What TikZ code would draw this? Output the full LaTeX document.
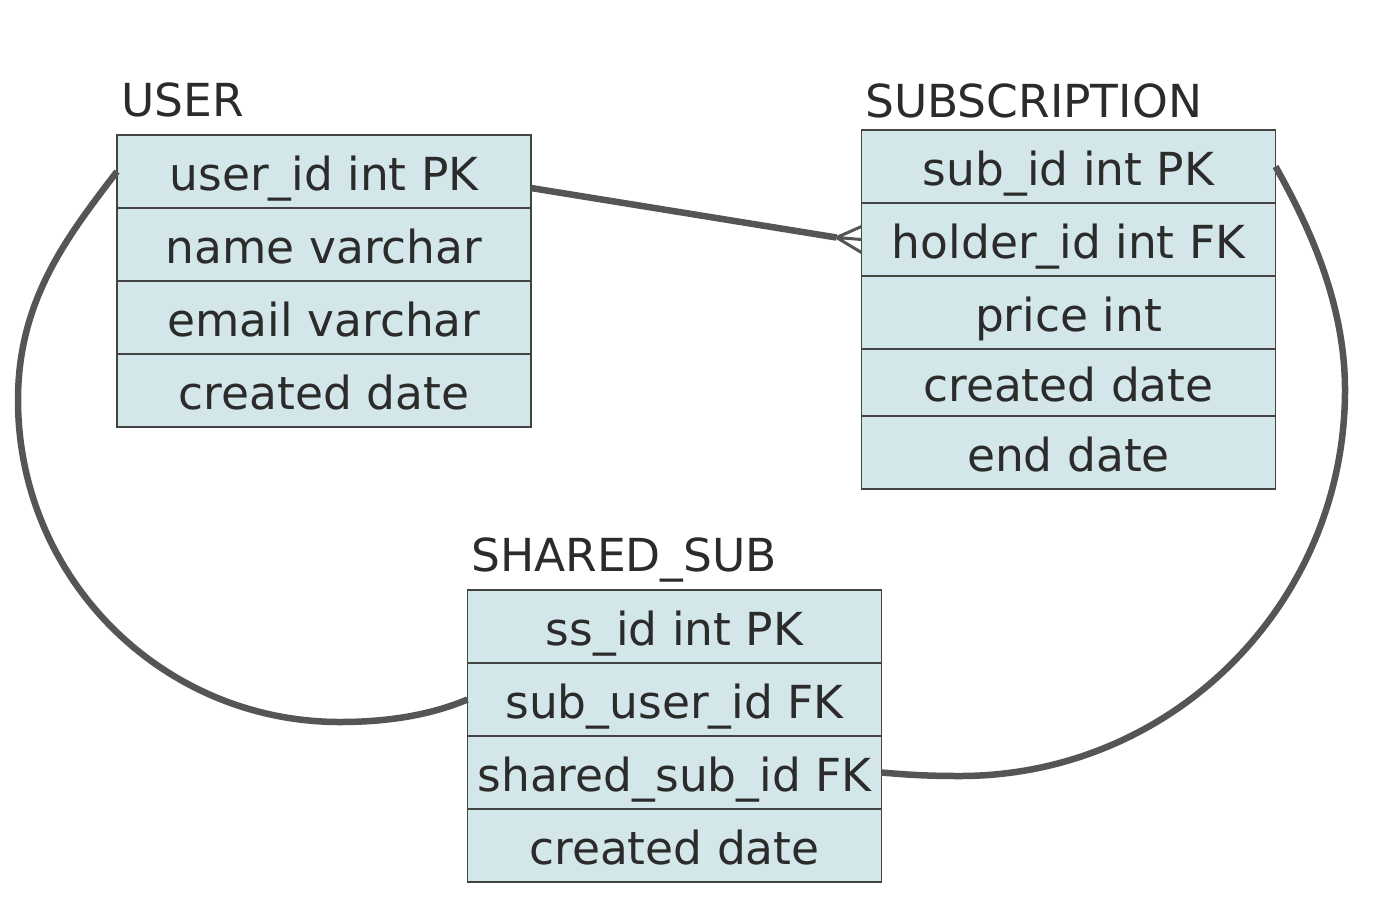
\documentclass[tikz,border=0pt]{standalone}
\usepackage{fontspec}
\setmainfont{DejaVu Sans}
\usetikzlibrary{positioning}
\definecolor{rowfill}{HTML}{D3E6E9}
\definecolor{rowline}{HTML}{444444}
\definecolor{relline}{HTML}{555555}
\definecolor{txt}{HTML}{2B2B2B}

\begin{document}
\begin{tikzpicture}[x=1pt, y=-1pt, node distance=0pt,
    field/.style={draw=rowline, fill=rowfill, line width=1.8pt, minimum width=414pt,
      minimum height=73pt, inner sep=0pt, outer sep=0pt, text=txt,
      font=\fontsize{45.5}{50}\selectfont, text height=41pt, text depth=4pt},
    tabname/.style={anchor=base west, inner sep=0pt, text=txt, font=\fontsize{45.5}{50}\selectfont},
    rel/.style={draw=relline, line width=6.5pt}]
  \useasboundingbox (0,0) rectangle (1388,906);

  % USER
  \node[tabname] (user) at (121,116) {USER};
  \node[field] (uid) at (324,171.5) {user\_id int PK};
  \node[field] (uname) [below=of uid] {name varchar};
  \node[field] (umail) [below=of uname] {email varchar};
  \node[field] (ucreated) [below=of umail] {created date};

  % SUBSCRIPTION
  \node[tabname] (sub) at (865,117) {SUBSCRIPTION};
  \node[field] (sid) at (1068.5,166.5) {sub\_id int PK};
  \node[field] (hid) [below=of sid] {holder\_id int FK};
  \node[field] (sprice) [below=of hid] {price int};
  \node[field, minimum height=67pt] (screated) [below=of sprice] {created date};
  \node[field] (send) [below=of screated] {end date};

  % SHARED_SUB
  \node[tabname] (shared) at (471,571) {SHARED\_SUB};
  \node[field] (ssid) at (674.5,626.5) {ss\_id int PK};
  \node[field] (suid) [below=of ssid] {sub\_user\_id FK};
  \node[field] (sssid) [below=of suid] {shared\_sub\_id FK};
  \node[field] (sscreated) [below=of sssid] {created date};

  % relations
  \coordinate (crow) at ([xshift=-25pt,yshift=2pt]hid.west);
  \draw[rel] ([yshift=-16.5pt]uid.east) -- (crow);
  \draw[relline, line width=3pt] (crow) -- ([yshift=13pt]hid.west)
    (crow) -- (hid.west) (crow) -- ([yshift=-13pt]hid.west);

  \draw[rel] (uid.west) .. controls (67,237) and (18,300) .. (18,400)
    .. controls (18,578) and (162,722) .. (340,722)
    .. controls (400,722) and (440,711) .. (suid.west);

  \draw[rel] (sid.east) .. controls (1306,221) and (1345,300) .. (1345,390)
    .. controls (1345,603) and (1173,776) .. (960,776)
    .. controls (920,776) and (900,774) .. (sssid.east);
\end{tikzpicture}
\end{document}
